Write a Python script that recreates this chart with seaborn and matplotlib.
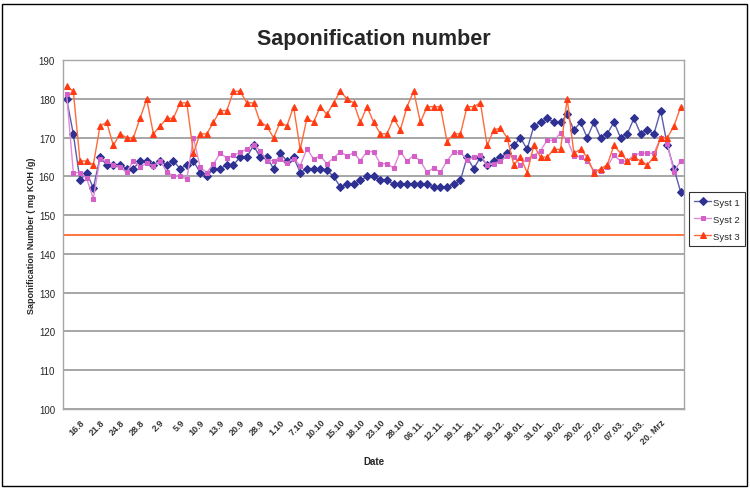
import numpy as np
import pandas as pd
import matplotlib
matplotlib.use('Agg')
import matplotlib.pyplot as plt
import seaborn as sns

# Saponification numbers per sampling day
syst1 = [180, 171, 159, 161, 157, 165, 163, 163, 163, 162, 162, 164, 164, 163, 164, 163, 164, 162, 163,
         164, 161, 160, 162, 162, 163, 163, 165, 165, 168, 165, 165, 162, 166, 164, 165, 161, 162,
         162, 162, 161.6, 160, 157.3, 158, 158, 159, 160, 160, 159, 159, 158, 158, 158, 158, 158, 158, 157.3,
         157.3, 157.3, 158, 159, 165, 162, 165, 163, 164, 165, 166, 168, 170, 167, 173, 174, 175, 174,
         174, 176, 172, 174, 170, 174, 170, 171, 174, 170, 171, 175, 171, 172, 171, 177, 168, 162, 156]
syst2 = [181.3, 161, 161, 159.5, 154.3, 164.6, 164, 163, 162.5, 161.1, 164.1, 162.5, 163.4, 162.7, 164.1, 161.2, 160.2, 160.1, 159.3,
         170, 162.4, 161, 163.2, 166, 164.8, 165.5, 166.2, 167.1, 168.2, 166.7, 164.1, 164.1, 164.6, 163.4, 164.6, 162.8, 167.1,
         164.6, 165.3, 163.3, 164.8, 166.4, 165.3, 166.1, 164.1, 166.4, 166.4, 163.3, 163.3, 162.2, 166.4, 164, 165.4, 164, 161.1, 162.2,
         161.1, 164.1, 166.2, 166.2, 164.3, 165, 165.5, 163, 163.3, 164, 165.3, 165, 163, 164.6, 165.4, 166.7, 169.3, 169.3,
         171.2, 169.5, 165.3, 165, 164, 161.5, 161.5, 162.5, 165.5, 164, 164, 165.5, 166, 166, 166, 170, 168.5, 161.2, 164]
syst3 = [183.3, 182, 164, 164, 163, 173, 174, 168, 171, 170, 170, 175, 180, 171, 173, 175, 175, 179, 179,
         166, 171, 171, 174, 177, 177, 182, 182, 179, 179, 174, 173, 170, 174, 173, 178, 167, 175,
         174, 178, 176, 179, 182, 180, 179, 174, 178, 174, 171, 171, 175, 172, 178, 182, 174, 178, 178,
         178, 169, 171, 171, 178, 178, 179, 168, 172, 172.5, 170, 163, 165, 161, 168, 165, 165, 167,
         167, 180, 166, 167, 165, 161, 162, 163, 168, 166, 164, 165, 164, 163, 165, 170, 170, 173, 178]
limit = 145

date_labels = ['16.8', '21.8', '24.8', '28.8', '2.9', '5.9', '10.9', '13.9', '20.9', '28.9',
               '1.10', '7.10', '10.10', '15.10', '18.10', '23.10', '28.10', '06.11.', '12.11.', '19.11.',
               '28.11.', '19.12.', '18.01.', '31.01.', '10.02.', '20.02.', '27.02.', '07.03.', '12.03.', '20. Mrz']

n = len(syst1)
df = pd.DataFrame({'idx': np.arange(n), 'Syst 1': syst1, 'Syst 2': syst2, 'Syst 3': syst3})

sns.set_style('white')
plt.rcParams['font.family'] = ['Liberation Sans', 'DejaVu Sans']

fig = plt.figure(figsize=(7.5, 4.89), dpi=100)
ax = fig.add_axes([0.0844, 0.1616, 0.912 - 0.0844, 0.8748 - 0.1616])

styles = {'Syst 1': ('#2e3192', '#5a5cae', 'D', 3.6),
          'Syst 2': ('#d55fc8', '#e08ad8', 's', 3.3),
          'Syst 3': ('#ff3b14', '#ff6a3a', '^', 4.2)}
for name, (mc, lc, mk, ms) in styles.items():
    sns.lineplot(data=df, x='idx', y=name, ax=ax, color=lc, linewidth=1.0,
                 marker=mk, markersize=ms, markerfacecolor=mc, markeredgecolor=mc,
                 label=name)

ax.axhline(limit, color='#ff5a1f', linewidth=1.2)

ax.set_xlim(-0.5, n - 0.5)
ax.set_ylim(100, 190)
ax.set_yticks(np.arange(100, 191, 10))
ax.yaxis.grid(True, color='#a6a6a6', linewidth=1.4)
ax.set_axisbelow(True)

label_pos = np.arange(2, 2 + 3 * len(date_labels), 3)
ax.set_xticks(label_pos)
ax.set_xticklabels(date_labels, rotation=45, ha='right', va='top', rotation_mode='anchor',
                   fontsize=6.5, fontweight='bold', color='#333333')
ax.set_xticks(np.arange(-0.5, n, 1), minor=True)
ax.tick_params(axis='x', which='major', length=0, pad=6)
ax.tick_params(axis='x', which='minor', length=3, width=0.6, color='#888888', direction='inout')
ax.tick_params(axis='y', labelsize=7, length=3, width=0.6, color='#888888', pad=3)

for s in ax.spines.values():
    s.set_color('#a6a6a6')
    s.set_linewidth(1.0)

ax.set_title('Saponification number', fontsize=15.5, fontweight='bold', pad=12)
ax.set_xlabel('Date', fontsize=7, fontweight='bold', labelpad=8)
ax.set_ylabel('Saponification Number ( mg KOH /g)', fontsize=6.5, fontweight='bold', labelpad=2)

leg = ax.legend(loc='center left', bbox_to_anchor=(0.918, 0.55), bbox_transform=fig.transFigure,
                fontsize=6.8, frameon=True, fancybox=False, edgecolor='#000000',
                handlelength=1.8, borderpad=0.6, labelspacing=0.85, handletextpad=0.2,
                borderaxespad=0)
leg.get_frame().set_linewidth(0.8)

fig.patches.append(plt.Rectangle((0.002, 0.004), 0.994, 0.985, transform=fig.transFigure,
                                 fill=False, edgecolor='#000000', linewidth=1.0))

plt.savefig('out.png', dpi=100)
